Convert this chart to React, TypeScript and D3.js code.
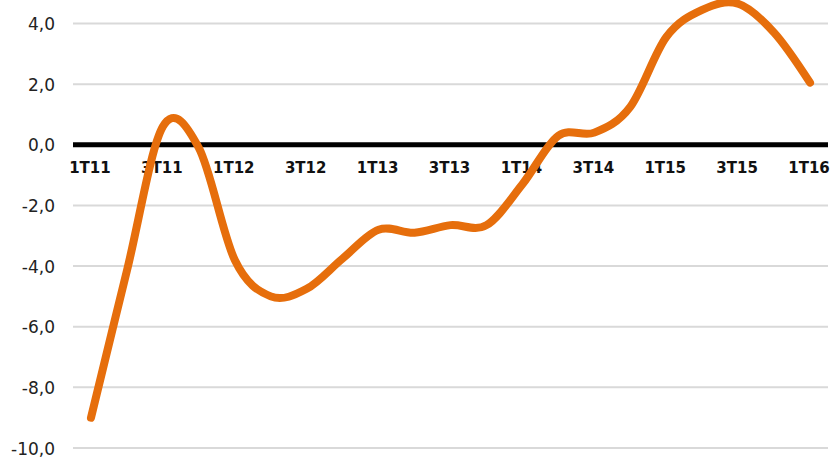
import React from "react";
import * as d3 from "d3";

const quarters = [
  "1T11", "2T11", "3T11", "4T11",
  "1T12", "2T12", "3T12", "4T12",
  "1T13", "2T13", "3T13", "4T13",
  "1T14", "2T14", "3T14", "4T14",
  "1T15", "2T15", "3T15", "4T15",
  "1T16",
];
const values = [
  -9.0, -4.15, 0.6, -0.1,
  -3.8, -5.0, -4.75, -3.75,
  -2.8, -2.9, -2.65, -2.65,
  -1.3, 0.3, 0.4, 1.25,
  3.55, 4.45, 4.65, 3.7,
  2.05,
];
const yTicks = [4, 2, 0, -2, -4, -6, -8, -10];
const labelQuarters = quarters.filter((_, i) => i % 2 === 0);

const W = 832;
const H = 458;

export default function App() {
  const x = d3.scaleBand<string>().domain(quarters).range([73, 828]);
  const cx = (q: string) => (x(q) ?? 0) + x.bandwidth() / 2;
  const y = d3.scaleLinear().domain([-10, 4]).range([448, 23.5]);
  const fmt = (v: number) => v.toFixed(1).replace(".", ",");

  const line = d3
    .line<number>()
    .x((_, i) => cx(quarters[i]))
    .y((d) => y(d))
    .curve(d3.curveCardinal.tension(0));

  return (
    <svg
      width={W}
      height={H}
      style={{ position: "absolute", left: 0, top: 0, background: "#fff" }}
    >
      {yTicks
        .filter((t) => t !== 0)
        .map((t) => (
          <line
            key={t}
            x1={73}
            x2={828}
            y1={y(t)}
            y2={y(t)}
            stroke="#d9d9d9"
            strokeWidth={2}
          />
        ))}
      <line x1={73} x2={828} y1={y(0)} y2={y(0)} stroke="#000" strokeWidth={5} />
      {yTicks.map((t) => (
        <text
          key={"l" + t}
          x={55}
          y={y(t) + 6.5}
          textAnchor="end"
          fontFamily="DejaVu Sans, sans-serif"
          fontSize={17}
          fill="#222"
        >
          {fmt(t)}
        </text>
      ))}
      {labelQuarters.map((q) => (
        <text
          key={q}
          x={cx(q) - 1}
          y={173}
          textAnchor="middle"
          fontFamily="DejaVu Sans, sans-serif"
          fontWeight="bold"
          fontSize={15}
          fill="#111"
        >
          {q}
        </text>
      ))}
      <path
        d={line(values) ?? ""}
        fill="none"
        stroke="#E66E0C"
        strokeWidth={8}
        strokeLinecap="round"
        strokeLinejoin="round"
      />
    </svg>
  );
}
